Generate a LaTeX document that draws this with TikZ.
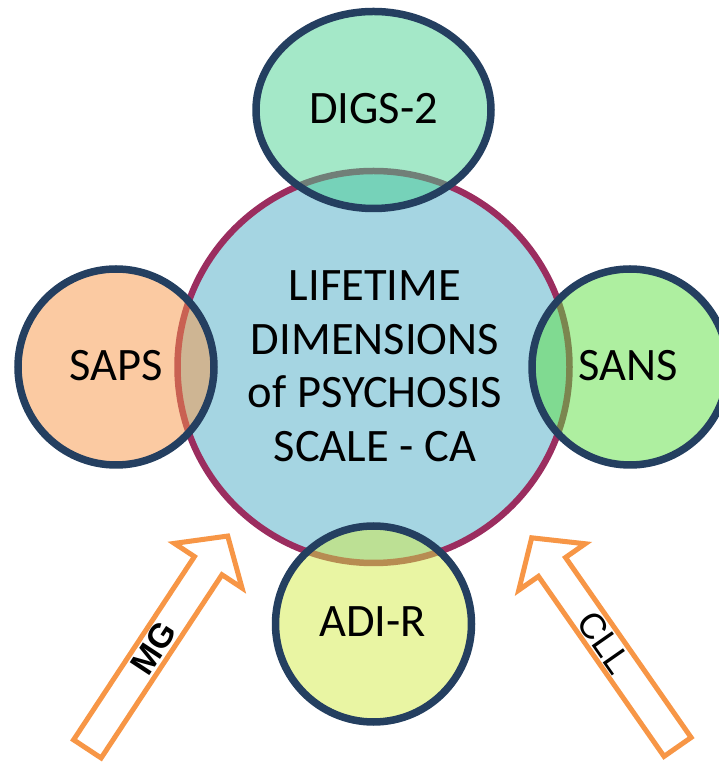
\documentclass[tikz,border=0pt]{standalone}
\usepackage{fontspec}
\setmainfont{Carlito}
\newfontfamily\arialfont{Liberation Sans}
\definecolor{centralfill}{HTML}{A5D5E2}
\definecolor{centralborder}{HTML}{9B2D5F}
\definecolor{navyline}{HTML}{243F60}
\definecolor{digscol}{HTML}{49D191}
\definecolor{sapscol}{HTML}{F79646}
\definecolor{sanscol}{HTML}{5DDF41}
\definecolor{adicol}{HTML}{D3EB47}
\definecolor{arroworange}{HTML}{F79646}
\tikzset{
  bigtext/.style={font=\fontsize{46.5}{53.5}\selectfont, align=center, inner sep=0pt},
  arrowbody/.style={draw=arroworange, line width=5pt, fill=white, line join=miter},
  arrowlabel/.style={inner sep=0pt, font=\arialfont\fontsize{36}{40}\selectfont},
}
\begin{document}
\begin{tikzpicture}[x=1pt,y=1pt]
\useasboundingbox (0,0) rectangle (718,763);
% central circle
\fill[centralfill] (373.5,396) circle (196);
\draw[centralborder, line width=6.5pt] (373.5,396) circle (196);
\node[bigtext] (center) at (375,397) {LIFETIME\\DIMENSIONS\\of PSYCHOSIS\\SCALE - CA};
% satellite circles
\fill[digscol, fill opacity=0.5] (373.5,653) ellipse [x radius=117.5, y radius=98.5];
\draw[navyline, line width=7.5pt] (373.5,653) ellipse [x radius=117.5, y radius=98.5];
\node[bigtext] (digs) at (373.5,654) {DIGS-2};
\fill[sapscol, fill opacity=0.5] (116,396) circle (98);
\draw[navyline, line width=7.5pt] (116,396) circle (98);
\node[bigtext] (saps) at (116,397) {SAPS};
\fill[sanscol, fill opacity=0.5] (630,396) circle (98);
\draw[navyline, line width=7.5pt] (630,396) circle (98);
\node[bigtext] (sans) at (628,397) {SANS};
\fill[adicol, fill opacity=0.5] (373.5,139) circle (98);
\draw[navyline, line width=7.5pt] (373.5,139) circle (98);
\node[bigtext] (adir) at (372.5,141) {ADI-R};
% left arrow MG
\begin{scope}[shift={(86,12)}, rotate=56.6]
\draw[arrowbody] (2.5,-16.5) -- (222,-16.5) -- (222,-40.5) -- (257.5,0) -- (222,40.5) -- (222,16.5) -- (2.5,16.5) -- cycle;
\node[arrowlabel, font=\bfseries\arialfont\fontsize{34}{38}\selectfont, rotate=56.6] (mg) at (123,0) {MG};
\end{scope}
% right arrow CLL
\begin{scope}[shift={(679,14)}, rotate=124.9]
\draw[arrowbody] (2.5,-16.5) -- (222,-16.5) -- (222,-40.5) -- (257.5,0) -- (222,40.5) -- (222,16.5) -- (2.5,16.5) -- cycle;
\node[arrowlabel, rotate=-55.1] (cll) at (130,0) {CLL};
\end{scope}
\end{tikzpicture}
\end{document}
